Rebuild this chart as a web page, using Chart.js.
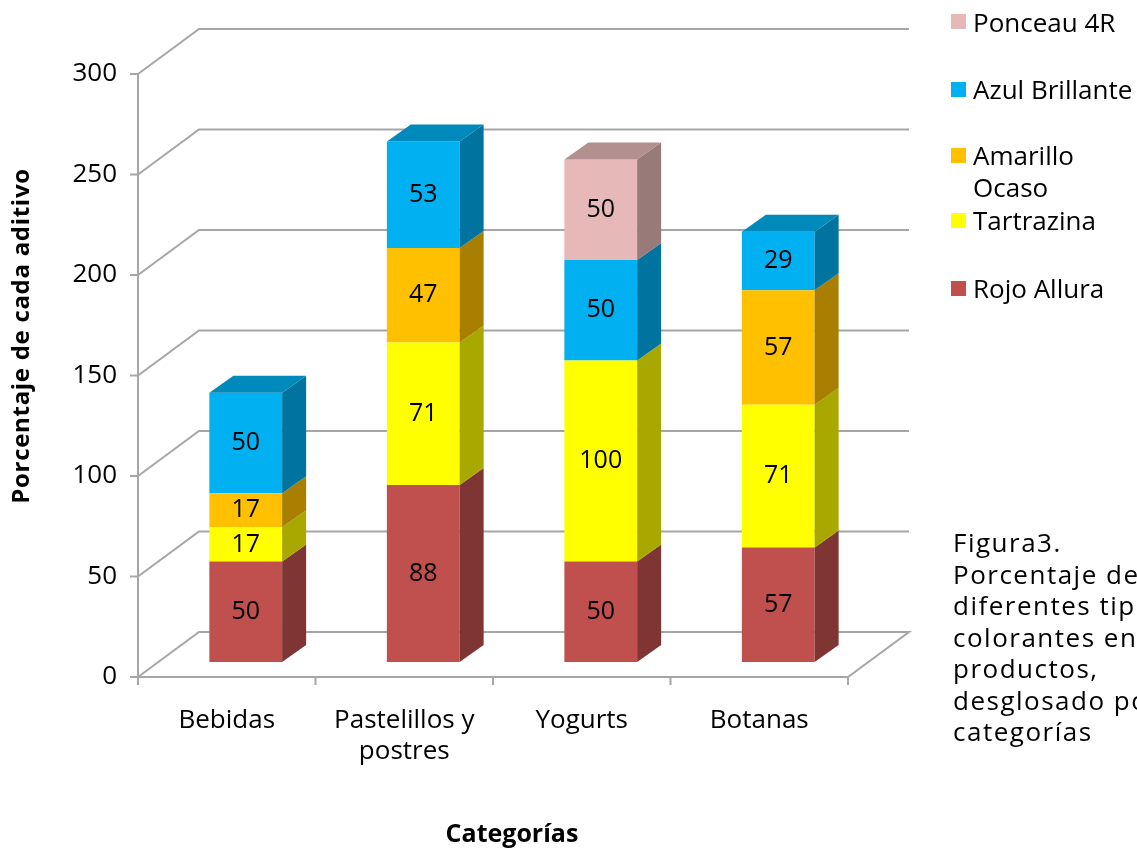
<!DOCTYPE html>
<html><head><meta charset="utf-8">
<script src="https://cdn.jsdelivr.net/npm/chart.js@4.4.1/dist/chart.umd.min.js"></script>
<style>
html,body{margin:0;padding:0;background:#fff;overflow:hidden;width:1137px;height:852px;}
#wrap{position:relative;width:1137px;height:852px;overflow:hidden;}
canvas{position:absolute;left:0;top:0;}
.lg{position:absolute;left:973px;width:170px;font-family:'Open Sans',sans-serif;font-size:26px;color:#000;line-height:32px;}
.sw{position:absolute;left:951px;width:15px;height:15px;}
#cap{position:absolute;left:953px;top:527px;font-family:'Open Sans',sans-serif;font-size:26px;line-height:31.5px;letter-spacing:1.5px;white-space:nowrap;color:#000;}
</style></head>
<body><div id="wrap"><canvas id="c" width="1137" height="852"></canvas><div id="legend"></div>
<div id="cap">Figura3.<br>Porcentaje de<br>diferentes tipos de<br>colorantes en<br>productos,<br>desglosado por<br>categorías</div></div>
<script>
const categories = ['Bebidas', ['Pastelillos y', 'postres'], 'Yogurts', 'Botanas'];
const seriesNames = ['Rojo Allura', 'Tartrazina', 'Amarillo Ocaso', 'Azul Brillante', 'Ponceau 4R'];
const rojoAllura = [50, 88, 50, 57];
const tartrazina = [17, 71, 100, 71];
const amarilloOcaso = [17, 47, 0, 57];
const azulBrillante = [50, 53, 50, 29];
const ponceau4R = [0, 0, 50, 0];
const yTickStep = 50;
const yMax = 300;
const yTitle = 'Porcentaje de cada aditivo';
const xTitle = 'Categorías';
const seriesColors = ['#C0504D', '#FFFF00', '#FFC000', '#00B0F0', '#E6B9B8'];
const seriesData = [rojoAllura, tartrazina, amarilloOcaso, azulBrillante, ponceau4R];

// legend (top to bottom is reverse of stacking order)
const legendCenters = [288, 220, 155, 89, 21.5];
const lg = document.getElementById('legend');
seriesNames.forEach((name, k) => {
  const c = legendCenters[k];
  const sw = document.createElement('div');
  sw.className = 'sw'; sw.style.top = (c - 7.5) + 'px'; sw.style.background = seriesColors[k];
  const t = document.createElement('div');
  t.className = 'lg'; t.style.top = (c - 16) + 'px'; t.textContent = name;
  lg.appendChild(sw); lg.appendChild(t);
});

const D = {fx: -19, fy: 15, bx: 42, by: -30, dx: 24, dy: -17};
function shade(hex, f) {
  const n = parseInt(hex.slice(1), 16);
  const r = Math.round(((n >> 16) & 255) * f), g = Math.round(((n >> 8) & 255) * f), b = Math.round((n & 255) * f);
  return `rgb(${r},${g},${b})`;
}
const threeD = {
  id: 'threeD',
  beforeDatasetsDraw(chart) {
    const {ctx, chartArea: a, scales: {y}} = chart;
    ctx.save();
    ctx.strokeStyle = '#A6A6A6'; ctx.lineWidth = 2;
    const fl = a.left + D.fx, fr = a.right + D.fx, bl = a.left + D.bx, br = a.right + D.bx;
    y.ticks.forEach(t => {
      const p = y.getPixelForValue(t.value);
      ctx.beginPath();
      ctx.moveTo(fl, p + D.fy); ctx.lineTo(bl, p + D.by); ctx.lineTo(br, p + D.by);
      if (t.value === 0) { ctx.lineTo(fr, p + D.fy); ctx.closePath(); }
      ctx.stroke();
    });
    // front axes
    const y0 = y.getPixelForValue(0) + D.fy, yT = y.getPixelForValue(yMax) + D.fy;
    ctx.beginPath();
    ctx.moveTo(fl, yT); ctx.lineTo(fl, y0 + 8);
    y.ticks.forEach(t => { const p = y.getPixelForValue(t.value) + D.fy; ctx.moveTo(fl - 8, p); ctx.lineTo(fl, p); });
    ctx.moveTo(fl, y0); ctx.lineTo(fr, y0);
    const n = chart.data.labels.length;
    for (let k = 0; k <= n; k++) { const xx = fl + k * (fr - fl) / n; ctx.moveTo(xx, y0); ctx.lineTo(xx, y0 + 8); }
    ctx.stroke();
    ctx.restore();
  },
  afterDatasetsDraw(chart) {
    const ctx = chart.ctx;
    const metas = chart.getSortedVisibleDatasetMetas();
    const n = chart.data.labels.length;
    ctx.save();
    for (let i = 0; i < n; i++) {
      let topK = -1;
      metas.forEach((m, k) => { if (chart.data.datasets[m.index].data[i]) topK = k; });
      metas.forEach((m, k) => {
        const v = chart.data.datasets[m.index].data[i];
        if (!v) return;
        const el = m.data[i];
        const {x, y: top, base, width} = el.getProps(['x', 'y', 'base', 'width'], true);
        const L = x - width / 2, R = x + width / 2;
        const col = chart.data.datasets[m.index].backgroundColor;
        ctx.fillStyle = shade(col, 0.66);
        ctx.beginPath(); ctx.moveTo(R, top); ctx.lineTo(R + D.dx, top + D.dy); ctx.lineTo(R + D.dx, base + D.dy); ctx.lineTo(R, base); ctx.closePath(); ctx.fill();
        if (k === topK) {
          ctx.fillStyle = shade(col, 0.78);
          ctx.beginPath(); ctx.moveTo(L, top); ctx.lineTo(L + D.dx, top + D.dy); ctx.lineTo(R + D.dx, top + D.dy); ctx.lineTo(R, top); ctx.closePath(); ctx.fill();
        }
        ctx.fillStyle = '#000'; ctx.font = "25px 'Open Sans'"; ctx.textAlign = 'center'; ctx.textBaseline = 'middle';
        ctx.fillText(String(v), x, (top + base) / 2);
      });
    }
    ctx.restore();
  },
  afterDraw(chart) {
    const ctx = chart.ctx;
    ctx.save();
    ctx.translate(22, 336);
    ctx.rotate(-Math.PI / 2);
    ctx.fillStyle = '#000';
    ctx.font = "bold 24px 'Open Sans'";
    if ('letterSpacing' in ctx) ctx.letterSpacing = '0.7px';
    ctx.textAlign = 'center'; ctx.textBaseline = 'middle';
    ctx.fillText(yTitle, 0, 0);
    ctx.restore();
  }
};

Chart.defaults.font.family = "'Open Sans', sans-serif";
Chart.defaults.color = '#000';
new Chart(document.getElementById('c'), {
  type: 'bar',
  data: {
    labels: categories,
    datasets: seriesNames.map((name, k) => ({
      label: name, data: seriesData[k], backgroundColor: seriesColors[k],
      borderWidth: 0, categoryPercentage: 1, barPercentage: 0.41
    }))
  },
  options: {
    responsive: false, animation: false, devicePixelRatio: 1,
    layout: {padding: {left: 0, top: 59, right: 270, bottom: 0}},
    plugins: {legend: {display: false}, tooltip: {enabled: false}},
    scales: {
      x: {
        stacked: true,
        grid: {display: false, drawTicks: false}, border: {display: false},
        ticks: {font: {size: 26, lineHeight: 1.2}, padding: 43, labelOffset: -19, maxRotation: 0, autoSkip: false},
        title: {display: true, text: xTitle, font: {size: 25, weight: 'bold'}, padding: {top: 0, bottom: 2}},
        afterFit: s => { s.height = 190; }
      },
      y: {
        stacked: true, min: 0, max: yMax,
        grid: {display: false, drawTicks: false}, border: {display: false},
        ticks: {stepSize: yTickStep, font: {size: 26}, padding: 40, labelOffset: 15},
        title: {display: false},
        afterFit: s => { s.width = 157; }
      }
    }
  },
  plugins: [threeD]
});
</script>
</body></html>
